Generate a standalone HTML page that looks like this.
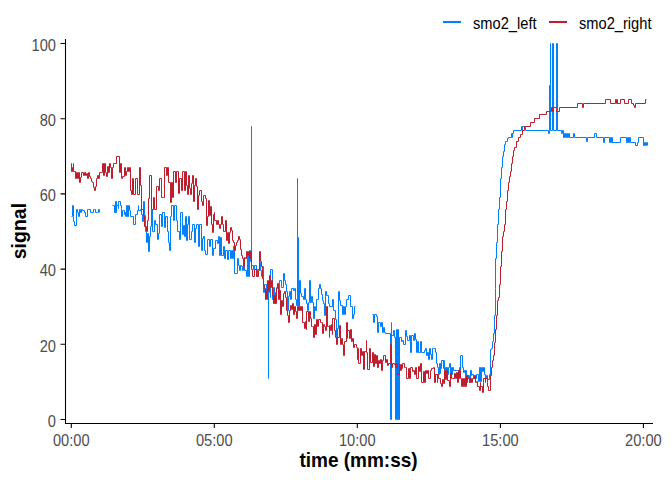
<!DOCTYPE html>
<html><head><meta charset="utf-8">
<style>
html,body{margin:0;padding:0;background:#fff;}
body{width:672px;height:480px;overflow:hidden;position:relative;font-family:"Liberation Sans",sans-serif;}
svg{position:absolute;left:0;top:0;}
</style></head><body>
<svg width="672" height="480" viewBox="0 0 672 480" style="font-family:'Liberation Sans',sans-serif">
<g fill="none" stroke-width="1" stroke-linejoin="miter" stroke-linecap="butt">
<path stroke="#007FFF" d="M71.5 216.5H72.5V205.5H73.5V216.5H73.5V221.5H74.5V225.5H76.5V209.5H77.5V212.5H78.5V216.5H79.5V209.5H80.5V212.5H81.5V209.5H82.5V210.5H84.5V212.5H85.5V216.5H87.5V209.5H88.5V209.5H90.5V212.5H91.5V212.5H93.5V209.5H94.5V209.5H95.5V212.5H97.5V212.5H98.5V209.5H99.5V212.5 M112.5 205.5H114.5V212.5H115.5V201.5H115.5V212.5H116.5V201.5H116.5V205.5H118.5V208.5H118.5V201.5H120.5V205.5H121.5V208.5H121.5V216.5H122.5V210.5H123.5V210.5H124.5V214.5H125.5V212.5H125.5V216.5H126.5V205.5H127.5V216.5H128.5V205.5H129.5V210.5H130.5V216.5H133.5V216.5H133.5V224.5H135.5V220.5H135.5V214.5H137.5V210.5H138.5V205.5H138.5V210.5H140.5V209.5H141.5V214.5H142.5V221.5H143.5V201.5H144.5V215.5H145.5V231.5H146.5V242.5H147.5V233.5H148.5V251.5H149.5V236.5H150.5V226.5H151.5V209.5H152.5V231.5H154.5V220.5H155.5V224.5H157.5V239.5H158.5V233.5H159.5V214.5H161.5V226.5H162.5V212.5H164.5V227.5H165.5V216.5H167.5V231.5H168.5V242.5H169.5V250.5H170.5V216.5H171.5V205.5H173.5V220.5H174.5V205.5H176.5V220.5H177.5V231.5H179.5V239.5H180.5V212.5H182.5V234.5H183.5V225.5H184.5V236.5H185.5V216.5H186.5V240.5H187.5V224.5H188.5V216.5H189.5V239.5H191.5V231.5H192.5V224.5H194.5V242.5H195.5V228.5H196.5V224.5H198.5V246.5H199.5V224.5H201.5V250.5H202.5V238.5H203.5V236.5H204.5V250.5H205.5V254.5H207.5V239.5H209.5V246.5H210.5V239.5H212.5V255.5H213.5V248.5H215.5V240.5H217.5V243.5H218.5V236.5H219.5V255.5H220.5V237.5H221.5V255.5H223.5V246.5H224.5V258.5H225.5V250.5H227.5V259.5H228.5V250.5H230.5V258.5H231.5V250.5H232.5V258.5H233.5V246.5H234.5V273.5H237.5V258.5H238.5V265.5H239.5V270.5H240.5V265.5H241.5V266.5H242.5V270.5H243.5V266.5H244.5V270.5H246.5V276.5H247.5V255.5H248.5V276.5H249.5V250.5H250.5V261.5H251.5V126.5H251.5V265.5H253.5V269.5H254.5V265.5H256.5V276.5H257.5V269.5H259.5V262.5H260.5V270.5H261.5V276.5H262.5V266.5H263.5V282.5H263.5V292.5H264.5V284.5H266.5V292.5H267.5V284.5H268.5V378.5H268.5V292.5H269.5V287.5H270.5V297.5H270.5V269.5H272.5V299.5H273.5V287.5H274.5V303.5H275.5V292.5H276.5V287.5H278.5V292.5H279.5V280.5H281.5V287.5H283.5V273.5H284.5V280.5H285.5V284.5H286.5V291.5H287.5V310.5H288.5V296.5H289.5V291.5H290.5V299.5H291.5V288.5H293.5V290.5H294.5V288.5H295.5V299.5H296.5V305.5H297.5V178.5H297.5V305.5H298.5V237.5H298.5V306.5H299.5V280.5H300.5V293.5H301.5V296.5H303.5V299.5H304.5V288.5H305.5V299.5H306.5V303.5H307.5V310.5H308.5V302.5H309.5V280.5H310.5V302.5H311.5V296.5H312.5V302.5H313.5V318.5H314.5V306.5H315.5V310.5H316.5V299.5H318.5V288.5H319.5V284.5H320.5V288.5H321.5V294.5H322.5V300.5H323.5V303.5H324.5V315.5H325.5V291.5H326.5V295.5H328.5V303.5H329.5V306.5H332.5V299.5H333.5V310.5H335.5V319.5H336.5V337.5H337.5V328.5H338.5V291.5H339.5V300.5H340.5V305.5H342.5V314.5H343.5V306.5H344.5V314.5H345.5V306.5H346.5V299.5H348.5V295.5H350.5V306.5H352.5V318.5H353.5V314.5H354.5V306.5H355.5V306.5 M372.5 314.5H373.5V322.5H374.5V314.5H376.5V316.5H377.5V332.5H378.5V322.5H380.5V326.5H381.5V322.5H382.5V332.5H383.5V327.5H384.5V332.5H385.5V333.5H390.5V419.5H391.5V322.5H391.5V335.5H393.5V330.5H394.5V337.5H395.5V419.5H396.5V329.5H397.5V419.5H398.5V329.5H398.5V419.5H399.5V337.5H401.5V341.5H402.5V340.5H403.5V344.5H405.5V330.5H406.5V336.5H407.5V340.5H409.5V335.5H410.5V352.5H411.5V341.5H411.5V335.5H413.5V340.5H414.5V333.5H415.5V339.5H416.5V352.5H417.5V341.5H418.5V352.5H420.5V341.5H421.5V350.5H421.5V352.5H424.5V350.5H425.5V348.5H426.5V355.5H427.5V352.5H428.5V359.5H429.5V348.5H430.5V354.5H431.5V359.5H432.5V348.5H433.5V348.5H435.5V352.5H436.5V363.5H437.5V367.5H438.5V374.5H439.5V363.5H440.5V373.5H440.5V363.5H441.5V368.5H441.5V360.5H443.5V368.5H443.5V360.5H444.5V371.5H445.5V367.5H446.5V371.5H446.5V367.5H447.5V374.5H448.5V367.5H449.5V363.5H450.5V374.5H450.5V367.5H451.5V374.5H452.5V367.5H453.5V370.5H456.5V370.5H458.5V374.5H459.5V367.5H460.5V370.5H460.5V355.5H462.5V355.5H462.5V367.5H463.5V372.5H464.5V370.5H465.5V378.5H465.5V370.5H466.5V382.5H466.5V375.5H468.5V378.5H468.5V375.5H469.5V382.5H470.5V370.5H471.5V375.5H471.5V374.5H473.5V378.5H474.5V375.5H475.5V378.5H476.5V374.5H478.5V381.5H479.5V367.5H480.5V381.5H481.5V367.5H482.5V371.5H483.5V367.5H484.5V374.5H485.5V378.5H486.5V375.5H487.5V379.5H489.5V374.5H490.5V382.5H490.5V349.5H491.5V348.5H492.5V341.5H493.5V333.5H494.5V315.5H495.5V288.5H495.5V258.5H496.5V242.5H497.5V224.5H498.5V209.5H499.5V197.5H500.5V178.5H501.5V167.5H502.5V156.5H503.5V151.5H504.5V144.5H505.5V141.5H507.5V138.5H508.5V137.5H511.5V133.5H512.5V137.5H512.5V133.5H513.5V130.5H521.5V126.5H522.5V130.5H522.5V126.5H525.5V130.5H548.5V133.5H549.5V130.5H549.5V85.5H550.5V43.5H550.5V130.5H552.5V43.5H553.5V130.5H556.5V43.5H557.5V130.5H561.5V133.5H562.5V130.5H563.5V137.5H564.5V133.5H565.5V137.5H566.5V133.5H567.5V137.5H568.5V133.5H569.5V137.5H573.5V133.5H574.5V137.5H586.5V141.5H587.5V137.5H594.5V133.5H596.5V137.5H603.5V142.5H604.5V137.5H609.5V142.5H610.5V137.5H611.5V142.5H612.5V137.5H612.5V142.5H620.5V137.5H626.5V142.5H627.5V137.5H628.5V142.5H629.5V137.5H630.5V142.5H635.5V145.5H637.5V142.5H638.5V137.5H643.5V145.5H644.5V142.5H645.5V145.5H646.5V142.5H647.5V145.5"/>
<path stroke="#BE1E2D" d="M71.5 167.5H71.5V163.5H71.5V171.5H72.5V167.5H73.5V163.5H73.5V171.5H75.5V178.5H76.5V172.5H77.5V178.5H78.5V172.5H79.5V182.5H80.5V177.5H81.5V172.5H83.5V175.5H84.5V172.5H85.5V175.5H86.5V173.5H87.5V178.5H88.5V172.5H89.5V176.5H90.5V178.5H91.5V181.5H92.5V182.5H93.5V187.5H94.5V190.5H95.5V186.5H96.5V178.5H97.5V175.5H98.5V178.5H99.5V172.5H101.5V172.5H102.5V163.5H103.5V175.5H104.5V163.5H105.5V172.5H106.5V176.5H107.5V166.5H108.5V172.5H109.5V163.5H110.5V167.5H111.5V178.5H112.5V167.5H113.5V163.5H116.5V156.5H119.5V172.5H120.5V163.5H121.5V178.5H122.5V176.5H124.5V167.5H125.5V175.5H126.5V171.5H127.5V167.5H128.5V171.5H129.5V167.5H130.5V190.5H131.5V194.5H132.5V178.5H133.5V194.5H135.5V178.5H137.5V194.5H139.5V167.5H140.5V185.5H141.5V209.5H143.5V215.5H144.5V226.5H146.5V231.5H147.5V220.5H148.5V198.5H149.5V175.5H151.5V209.5H153.5V197.5H154.5V209.5H156.5V186.5H158.5V190.5H159.5V178.5H161.5V197.5H163.5V197.5H164.5V167.5H166.5V175.5H167.5V167.5H168.5V182.5H170.5V202.5H171.5V182.5H172.5V197.5H173.5V171.5H175.5V182.5H176.5V171.5H178.5V193.5H179.5V178.5H181.5V190.5H182.5V171.5H184.5V190.5H185.5V171.5H186.5V185.5H187.5V194.5H188.5V175.5H189.5V188.5H190.5V194.5H191.5V183.5H192.5V175.5H193.5V201.5H194.5V185.5H195.5V178.5H196.5V186.5H197.5V209.5H198.5V195.5H199.5V190.5H201.5V201.5H202.5V205.5H203.5V195.5H205.5V198.5H206.5V225.5H207.5V216.5H208.5V200.5H209.5V215.5H210.5V206.5H211.5V224.5H212.5V232.5H213.5V214.5H214.5V212.5H214.5V220.5H216.5V224.5H217.5V220.5H218.5V224.5H219.5V228.5H220.5V224.5H221.5V216.5H222.5V224.5H223.5V231.5H225.5V220.5H226.5V240.5H227.5V232.5H228.5V243.5H229.5V232.5H230.5V227.5H231.5V230.5H232.5V240.5H233.5V242.5H234.5V250.5H235.5V245.5H236.5V242.5H237.5V240.5H238.5V236.5H239.5V239.5H240.5V249.5H241.5V255.5H242.5V258.5H243.5V266.5H244.5V257.5H245.5V258.5H246.5V251.5H247.5V255.5H248.5V251.5H249.5V258.5H250.5V251.5H251.5V269.5H252.5V276.5H254.5V269.5H256.5V276.5H258.5V270.5H259.5V251.5H260.5V261.5H261.5V266.5H262.5V278.5H263.5V285.5H264.5V288.5H265.5V299.5H266.5V290.5H267.5V299.5H267.5V280.5H268.5V290.5H269.5V275.5H270.5V287.5H271.5V280.5H272.5V295.5H273.5V303.5H274.5V295.5H275.5V303.5H276.5V288.5H277.5V283.5H278.5V299.5H279.5V290.5H280.5V314.5H281.5V300.5H282.5V306.5H283.5V293.5H284.5V291.5H285.5V297.5H286.5V310.5H287.5V315.5H288.5V322.5H289.5V310.5H290.5V305.5H291.5V309.5H292.5V303.5H293.5V314.5H294.5V306.5H295.5V311.5H296.5V318.5H297.5V306.5H298.5V310.5H299.5V306.5H300.5V310.5H301.5V306.5H302.5V322.5H302.5V322.5H304.5V328.5H305.5V321.5H306.5V329.5H306.5V311.5H308.5V321.5H309.5V311.5H310.5V315.5H310.5V318.5H311.5V326.5H312.5V326.5H313.5V337.5H314.5V324.5H315.5V334.5H316.5V319.5H317.5V326.5H318.5V319.5H320.5V322.5H321.5V322.5H322.5V333.5H323.5V324.5H324.5V326.5H325.5V330.5H326.5V306.5H327.5V326.5H328.5V326.5H329.5V337.5H329.5V325.5H330.5V330.5H331.5V324.5H332.5V334.5H332.5V318.5H334.5V330.5H335.5V337.5H336.5V344.5H337.5V337.5H339.5V325.5H340.5V344.5H341.5V338.5H342.5V344.5H343.5V355.5H344.5V344.5H344.5V341.5H346.5V322.5H347.5V338.5H347.5V330.5H349.5V338.5H350.5V329.5H351.5V341.5H352.5V338.5H353.5V347.5H354.5V344.5H356.5V347.5H357.5V359.5H358.5V348.5H358.5V363.5H360.5V348.5H361.5V355.5H362.5V351.5H363.5V369.5H364.5V351.5H366.5V340.5H366.5V352.5H367.5V369.5H369.5V348.5H370.5V362.5H372.5V352.5H373.5V366.5H374.5V354.5H375.5V363.5H376.5V355.5H377.5V367.5H378.5V360.5H379.5V363.5H380.5V359.5H381.5V370.5H382.5V360.5H383.5V355.5H385.5V362.5H386.5V359.5H387.5V365.5H388.5V363.5H390.5V344.5H391.5V367.5H392.5V363.5H394.5V364.5H395.5V367.5H396.5V363.5H397.5V374.5H399.5V364.5H400.5V370.5H401.5V364.5H402.5V368.5H402.5V363.5H404.5V367.5H405.5V367.5H406.5V370.5H406.5V378.5H408.5V368.5H409.5V378.5H410.5V370.5H410.5V367.5H412.5V371.5H413.5V370.5H414.5V374.5H415.5V367.5H416.5V378.5H418.5V366.5H419.5V371.5H420.5V363.5H421.5V370.5H421.5V382.5H423.5V371.5H424.5V382.5H425.5V370.5H426.5V373.5H427.5V370.5H428.5V378.5H430.5V370.5H431.5V368.5H433.5V367.5H434.5V382.5H435.5V374.5H437.5V382.5H437.5V374.5H438.5V378.5H440.5V383.5H441.5V386.5H442.5V379.5H443.5V383.5H444.5V370.5H445.5V379.5H446.5V370.5H447.5V373.5H447.5V380.5H449.5V386.5H450.5V373.5H451.5V378.5H452.5V378.5H454.5V373.5H455.5V378.5H456.5V372.5H457.5V382.5H458.5V370.5H458.5V378.5H459.5V370.5H460.5V378.5H461.5V386.5H462.5V378.5H463.5V386.5H464.5V378.5H465.5V386.5H466.5V375.5H467.5V382.5H467.5V378.5H469.5V382.5H470.5V378.5H471.5V382.5H472.5V378.5H474.5V375.5H475.5V382.5H476.5V381.5H477.5V386.5H479.5V390.5H480.5V382.5H480.5V386.5H482.5V392.5H483.5V382.5H483.5V378.5H485.5V382.5H485.5V378.5H487.5V382.5H487.5V386.5H488.5V390.5H490.5V375.5H491.5V367.5H492.5V360.5H493.5V355.5H494.5V342.5H495.5V329.5H496.5V315.5H497.5V300.5H498.5V297.5H499.5V284.5H500.5V266.5H501.5V251.5H502.5V236.5H503.5V231.5H504.5V224.5H505.5V209.5H506.5V201.5H507.5V190.5H508.5V182.5H509.5V176.5H510.5V171.5H511.5V163.5H512.5V156.5H513.5V150.5H514.5V147.5H516.5V141.5H518.5V137.5H520.5V134.5H522.5V130.5H524.5V126.5H530.5V122.5H534.5V118.5H539.5V114.5H546.5V111.5H551.5V107.5H552.5V111.5H553.5V107.5H556.5V111.5H557.5V111.5H559.5V107.5H577.5V103.5H582.5V107.5H583.5V103.5H605.5V99.5H610.5V103.5H615.5V99.5H616.5V103.5H617.5V99.5H617.5V103.5H620.5V99.5H624.5V103.5H628.5V99.5H631.5V103.5H633.5V105.5H634.5V107.5H635.5V103.5H645.5V99.5H646.5V99.5"/>

</g>
<g id="axes" stroke="#000" stroke-width="1.07" fill="none" shape-rendering="auto">
<path d="M65.5 39V423.5H653"/>
<path d="M60.5 43.5H65.5M60.5 118.7H65.5M60.5 193.9H65.5M60.5 269.1H65.5M60.5 344.3H65.5M60.5 419.5H65.5"/>
<path d="M71.3 423.5V428M214.3 423.5V428M357.3 423.5V428M500.4 423.5V428M643.4 423.5V428"/>
</g>
<g fill="#4D4D4D" font-size="14.67" text-anchor="end">
<text transform="matrix(1 0 0 1.09 0 -3.546)" x="56" y="49.9">100</text>
<text transform="matrix(1 0 0 1.09 0 -10.314)" x="56" y="125.1">80</text>
<text transform="matrix(1 0 0 1.09 0 -17.082)" x="56" y="200.3">60</text>
<text transform="matrix(1 0 0 1.09 0 -23.850)" x="56" y="275.5">40</text>
<text transform="matrix(1 0 0 1.09 0 -30.618)" x="56" y="350.7">20</text>
<text transform="matrix(1 0 0 1.09 0 -37.386)" x="56" y="425.9">0</text>
</g>
<g fill="#4D4D4D" font-size="14.67" text-anchor="middle">
<text transform="matrix(1 0 0 1.09 0 -39.069)" x="71.3" y="444.6">00:00</text>
<text transform="matrix(1 0 0 1.09 0 -39.069)" x="214.3" y="444.6">05:00</text>
<text transform="matrix(1 0 0 1.09 0 -39.069)" x="357.3" y="444.6">10:00</text>
<text transform="matrix(1 0 0 1.09 0 -39.069)" x="500.4" y="444.6">15:00</text>
<text transform="matrix(1 0 0 1.09 0 -39.069)" x="643.4" y="444.6">20:00</text>
</g>
<text transform="matrix(1 0 0 1.05 0 -23.350)" x="358.5" y="467" font-size="19" font-weight="bold" text-anchor="middle" fill="#000">time (mm:ss)</text>
<text transform="translate(25.5 231.1) rotate(-90)" font-size="19.5" font-weight="bold" text-anchor="middle" fill="#000">signal</text>
<g stroke-width="2.1">
<path d="M443 22H461" stroke="#007FFF"/>
<path d="M549 22H567" stroke="#BE1E2D"/>
</g>
<g font-size="14.67" fill="#000" transform="matrix(1 0 0 1.09 0 -2.583)">
<text x="473" y="28.7">smo2_left</text>
<text x="579" y="28.7">smo2_right</text>
</g>
</svg>
</body></html>
